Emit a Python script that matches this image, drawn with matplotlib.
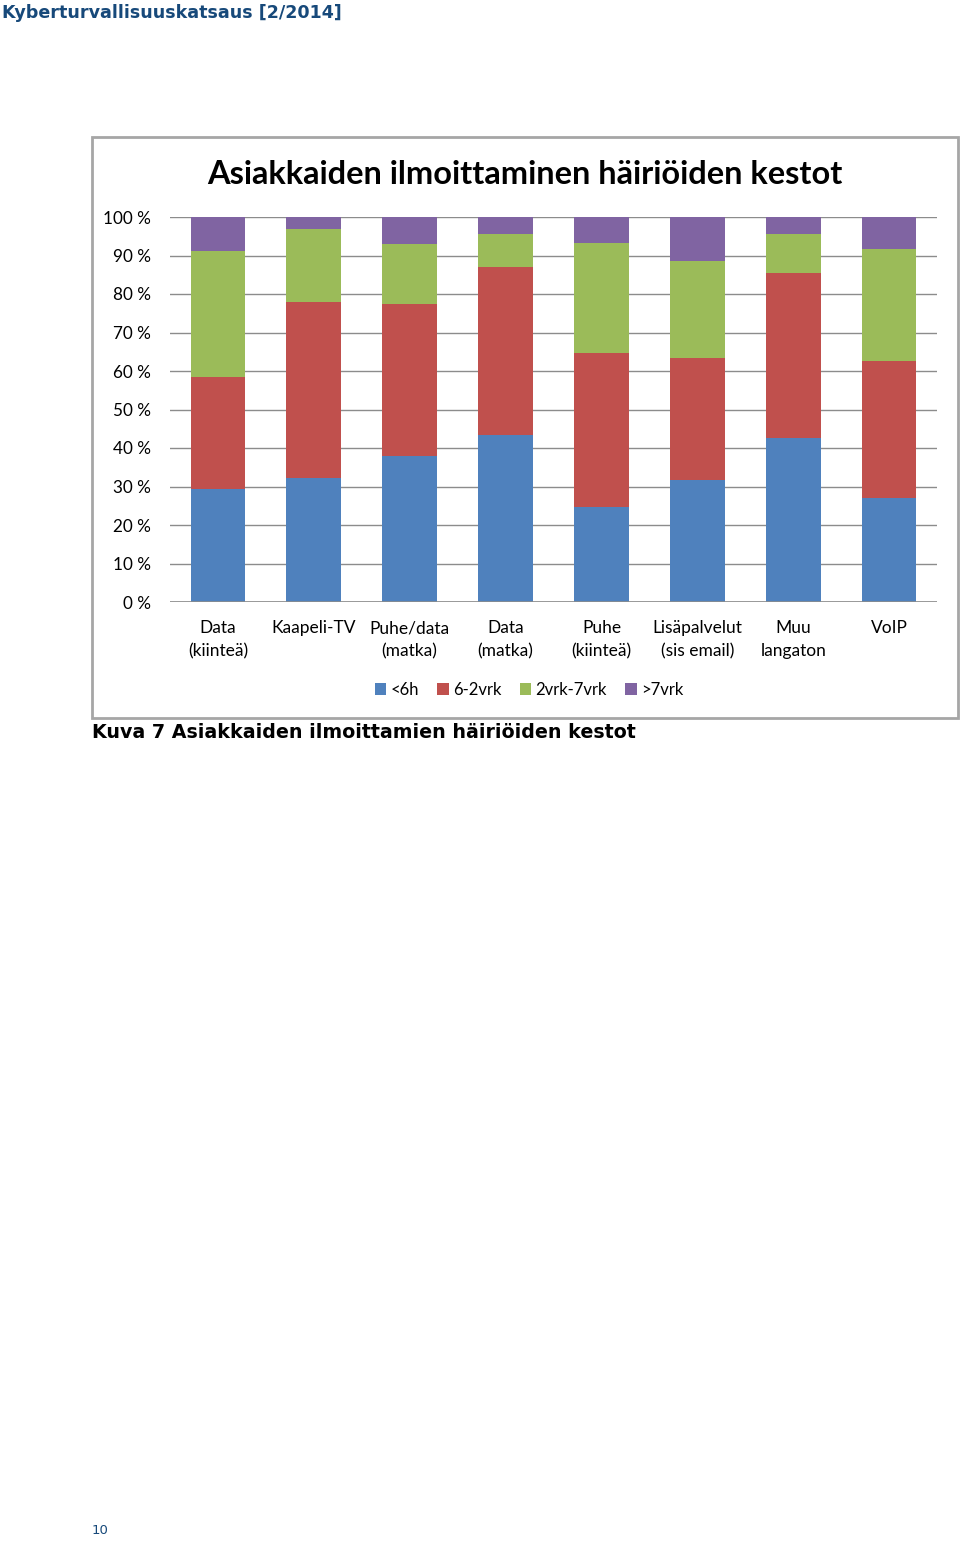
import matplotlib.pyplot as plt
import numpy as np
from matplotlib.patches import Rectangle

# categories and shares (%)
categories = ['Data\n(kiinteä)', 'Kaapeli-TV', 'Puhe/data\n(matka)', 'Data\n(matka)',
              'Puhe\n(kiinteä)', 'Lisäpalvelut\n(sis email)', 'Muu\nlangaton', 'VoIP']
series_names = ['<6h', '6-2vrk', '2vrk-7vrk', '>7vrk']
under_6h = [29.4, 32.3, 37.8, 43.5, 24.8, 31.6, 42.6, 27.0]
h6_to_2vrk = [29.0, 45.5, 39.7, 43.6, 39.8, 31.8, 42.8, 35.7]
vrk2_to_7 = [32.8, 19.1, 15.6, 8.4, 28.6, 25.3, 10.1, 29.0]
over_7vrk = [8.8, 3.1, 6.9, 4.5, 6.8, 11.3, 4.5, 8.3]
yticks = [0, 10, 20, 30, 40, 50, 60, 70, 80, 90, 100]

colors = ['#4F81BD', '#C0504D', '#9BBB59', '#8064A2']

W, H = 960, 1544
fig = plt.figure(figsize=(W / 100, H / 100), dpi=100)

def px_box(x0, y0, x1, y1):
    # pixel box (top-left origin) -> figure fraction
    return [x0 / W, 1 - y1 / H, (x1 - x0) / W, (y1 - y0) / H]

# page header, caption and page number
fig.text(2 / W, 1 - 13 / H, 'Kyberturvallisuuskatsaus [2/2014]', fontsize=12.6,
         fontweight='bold', color='#17497a', family='DejaVu Sans', va='center', ha='left')
fig.text(92 / W, 1 - 733 / H, 'Kuva 7 Asiakkaiden ilmoittamien häiriöiden kestot', fontsize=13.7,
         fontweight='bold', color='black', family='DejaVu Sans', va='center', ha='left')
fig.text(92 / W, 1 - 1531 / H, '10', fontsize=9.5, color='#17497a',
         family='DejaVu Sans', va='center', ha='left')

# chart border
fig.patches.append(Rectangle((92 / W, 1 - 718 / H), (958 - 92) / W, (718 - 137) / H,
                             transform=fig.transFigure, fill=False, edgecolor='#a6a6a6',
                             linewidth=2))

fig.text(525 / W, 1 - 174 / H, 'Asiakkaiden ilmoittaminen häiriöiden kestot', fontsize=23.4,
         fontweight='bold', family='Lato', va='center', ha='center')

ax = fig.add_axes(px_box(170, 217, 937, 602))
x = np.arange(len(categories))
data = [under_6h, h6_to_2vrk, vrk2_to_7, over_7vrk]
bottom = np.zeros(len(categories))
handles = []
for vals, name, c in zip(data, series_names, colors):
    b = ax.bar(x, vals, width=0.57, bottom=bottom, color=c, label=name, zorder=2)
    handles.append(b)
    bottom += np.array(vals)

ax.set_xlim(-0.5, len(categories) - 0.5)
ax.set_ylim(0, 100)
ax.set_yticks(yticks)
ax.set_yticklabels([f'{t} %' for t in yticks], family='Lato', fontsize=12.3)
ax.set_xticks(x)
ax.set_xticklabels(categories, family='Lato', fontsize=12.5, linespacing=1.55)
ax.tick_params(axis='x', length=0, pad=13)
ax.tick_params(axis='y', length=0, pad=13.5)
ax.yaxis.grid(True, color='#8c8c8c', linewidth=1, zorder=0)
for s in ax.spines.values():
    s.set_visible(False)
ax.axhline(0, color='#8c8c8c', linewidth=1.2, zorder=3)

fig.legend(handles=handles, labels=series_names, loc='center', ncol=4,
           bbox_to_anchor=(529 / W, 1 - 690 / H), frameon=False,
           prop={'family': 'Lato', 'size': 12}, handlelength=0.7, handleheight=0.7,
           handletextpad=0.25, columnspacing=1.1)

fig.savefig('out.png', dpi=100)
